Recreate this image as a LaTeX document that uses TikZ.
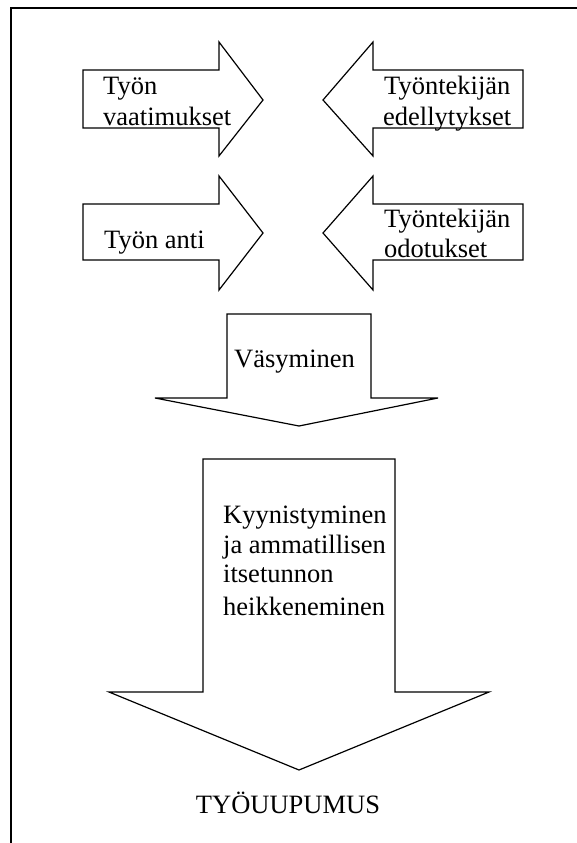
\documentclass[tikz,border=0pt]{standalone}
\usepackage{fontspec}
\setmainfont{Liberation Serif}
\begin{document}
\begin{tikzpicture}[x=1pt,y=-1pt,
  arrowbox/.style={draw=black,line width=1.2pt,line join=miter},
  borderline/.style={draw=black,line width=1.5pt},
  lbl/.style={anchor=base west,inner sep=0pt,font=\fontsize{26.5}{30}\selectfont}]
\useasboundingbox (0,0) rectangle (577,843);
\draw[borderline] (577,8) -- (11,8) -- (11,843);
% top row
\draw[arrowbox] (83,70) -- (219,70) -- (219,42) -- (263,100) -- (219,156) -- (219,128) -- (83,128) -- cycle;
\draw[arrowbox] (523,70) -- (373,70) -- (373,42) -- (323,100) -- (373,156) -- (373,128) -- (523,128) -- cycle;
% second row
\draw[arrowbox] (83,204) -- (219,204) -- (219,176) -- (263,233) -- (219,290) -- (219,260) -- (83,260) -- cycle;
\draw[arrowbox] (523,204) -- (373,204) -- (373,176) -- (323,233) -- (373,290) -- (373,260) -- (523,260) -- cycle;
% Väsyminen arrow
\draw[arrowbox] (227,314) -- (371,314) -- (371,398) -- (438,398) -- (299,426) -- (155,398) -- (227,398) -- cycle;
% big arrow
\draw[arrowbox] (203,459) -- (395,459) -- (395,692) -- (489,692) -- (299,770) -- (109,692) -- (203,692) -- cycle;
% texts
\node[lbl] (t1a) at (103,94) {Työn};
\node[lbl] (t1b) at (103,125) {vaatimukset};
\node[lbl] (t2a) at (384,94) {Työntekijän};
\node[lbl] (t2b) at (383,125) {edellytykset};
\node[lbl] (t3) at (104,248) {Työn anti};
\node[lbl] (t4a) at (384,227) {Työntekijän};
\node[lbl] (t4b) at (384,257) {odotukset};
\node[lbl] (t5) at (234,367) {Väsyminen};
\node[lbl] (t6a) at (223,523) {Kyynistyminen};
\node[lbl] (t6b) at (223,553) {ja ammatillisen};
\node[lbl] (t6c) at (223,582) {itsetunnon};
\node[lbl] (t6d) at (223,615) {heikkeneminen};
\node[lbl,anchor=base] (t7) at (288,813) {TYÖUUPUMUS};
\end{tikzpicture}
\end{document}
